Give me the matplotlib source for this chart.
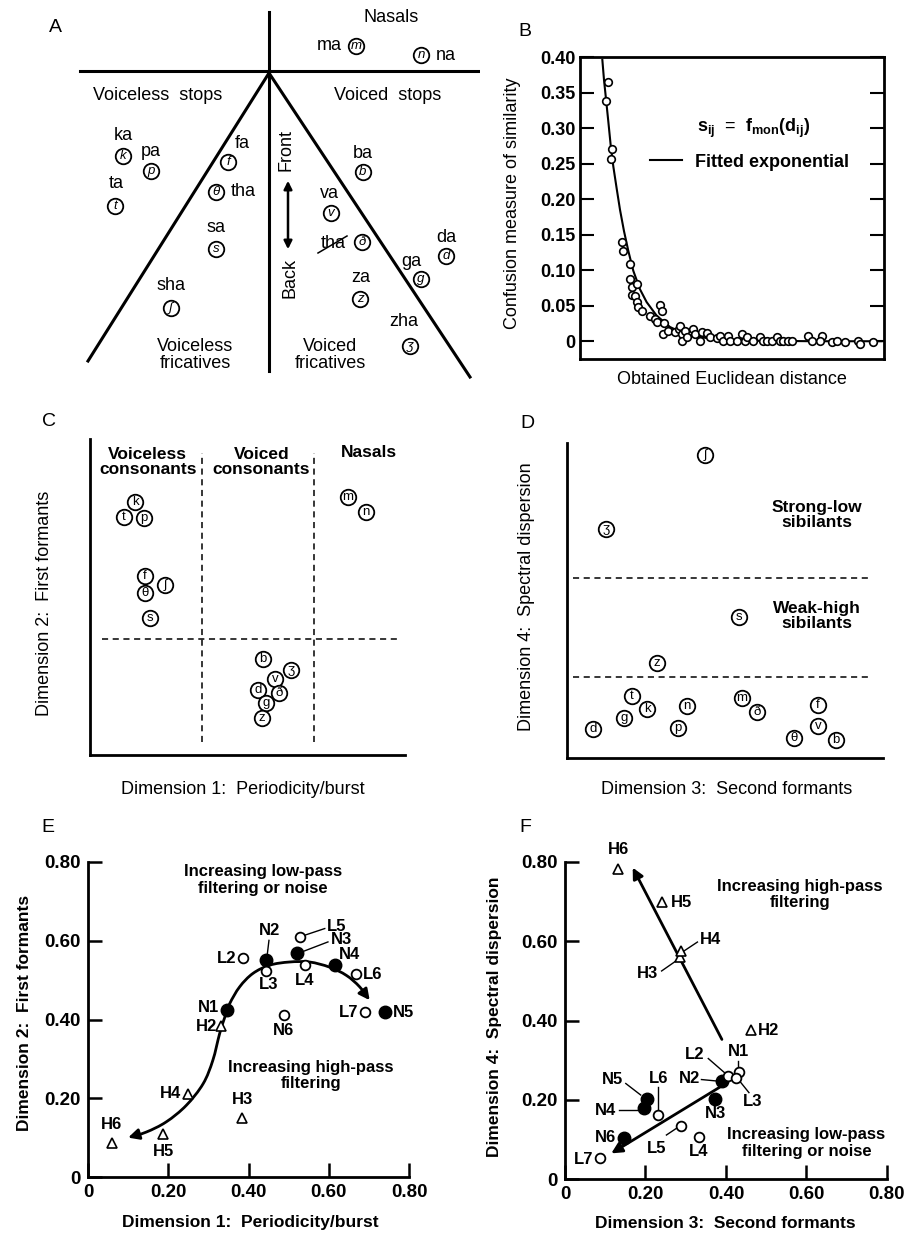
import numpy as np
import matplotlib
matplotlib.use("Agg")
import matplotlib.pyplot as plt
from matplotlib.path import Path
from matplotlib.patches import FancyArrowPatch

plt.rcParams['font.family'] = ['Liberation Sans', 'DejaVu Sans']
plt.rcParams['mathtext.fontset'] = 'custom'
plt.rcParams['mathtext.rm'] = 'Liberation Sans:bold'
plt.rcParams['mathtext.it'] = 'Liberation Sans:bold'
plt.rcParams['mathtext.default'] = 'rm'

W, H = 912, 1234

# ---------------- data ----------------
# A: feature diagram (pixel-like coordinates)
a_line_x = [[80, 480], [269, 269], [269, 88], [269, 470]]
a_line_y = [[71, 71], [12, 371], [73, 361], [73, 377]]
a_sym = ['k', 'p', 't', 'f', 'θ', 's', 'ʃ', 'm', 'n', 'b', 'v', 'ð', 'd', 'g', 'z', 'ʒ']
a_sym_x = [123, 151, 115, 228, 216, 216, 171, 356, 421, 363, 331, 362, 446, 421, 360, 410]
a_sym_y = [156, 171, 206, 162, 192, 249, 308, 46, 55, 172, 213, 242, 256, 279, 299, 346]
a_syl = ['ka', 'pa', 'ta', 'fa', 'tha', 'sa', 'sha', 'ma', 'na', 'ba', 'va', 'tha', 'da', 'ga', 'za', 'zha']
a_syl_x = [123, 151, 116, 242, 243, 216, 171, 329, 446, 363, 329, 333, 446, 411, 361, 404]
a_syl_y = [135, 151, 183, 143, 192, 227, 285, 46, 55, 153, 193, 244, 237, 261, 278, 322]
a_region = ['Nasals', 'Voiceless  stops', 'Voiced  stops', 'Voiceless\nfricatives', 'Voiced\nfricatives']
a_region_x = [391, 158, 388, 195, 330]
a_region_y = [17, 96, 96, 355, 355]

# B: confusion vs distance
b_x = [0.91, 0.855, 1.06, 1.02, 1.39, 1.40, 1.64, 1.64, 1.70, 1.89, 1.70, 1.82, 1.86, 1.92, 2.03,
       2.30, 2.47, 2.52, 2.63, 2.69, 2.77, 2.72, 2.91, 3.13, 3.26, 3.29, 3.34, 3.34, 3.45, 3.51,
       3.73, 3.78, 3.95, 4.00, 4.17, 4.28, 4.50, 4.61, 4.71, 4.88, 4.93, 5.15, 5.32, 5.43, 5.48,
       5.70, 5.92, 6.03, 6.14, 6.31, 6.47, 6.58, 6.69, 6.85, 6.96, 7.51, 7.62, 7.95, 7.89, 8.28,
       8.44, 8.72, 9.16, 9.21, 9.65]
b_y = [0.365, 0.338, 0.271, 0.256, 0.139, 0.127, 0.108, 0.088, 0.076, 0.080, 0.065, 0.064, 0.055,
       0.048, 0.043, 0.036, 0.031, 0.027, 0.051, 0.042, 0.025, 0.010, 0.014, 0.013, 0.017, 0.022,
       0.010, 0.001, 0.015, 0.006, 0.017, 0.010, 0.001, 0.013, 0.011, 0.006, 0.005, 0.008, 0.000,
       0.008, 0.001, 0.001, 0.010, 0.000, 0.006, 0.001, 0.006, 0.000, 0.001, 0.000, 0.006, 0.000,
       0.001, 0.000, 0.001, 0.007, 0.000, 0.007, 0.000, -0.001, 0.001, -0.001, 0.000, -0.004, -0.001]
b_fit_x = [0.735, 0.789, 0.855, 0.932, 1.009, 1.096, 1.206, 1.316, 1.447, 1.590, 1.754, 1.974,
           2.193, 2.522, 2.961, 3.509, 4.386, 5.482, 7.675, 9.923]
b_fit_y = [0.396, 0.368, 0.341, 0.309, 0.276, 0.246, 0.215, 0.185, 0.155, 0.127, 0.099, 0.073,
           0.055, 0.036, 0.020, 0.009, 0.003, 0.001, 0.0, 0.0]
b_yticks = [0, 0.05, 0.10, 0.15, 0.20, 0.25, 0.30, 0.35, 0.40]
b_yticklabels = ['0', '0.05', '0.10', '0.15', '0.20', '0.25', '0.30', '0.35', '0.40']

# C: dimension 1 vs dimension 2
c_sym = ['k', 't', 'p', 'm', 'n', 'f', 'ʃ', 'θ', 's', 'b', 'ʒ', 'v', 'd', 'ð', 'g', 'z']
c_x = [1.43, 1.08, 1.71, 8.19, 8.76, 1.75, 2.38, 1.75, 1.90, 5.49, 6.38, 5.87, 5.33, 6.00, 5.59, 5.46]
c_y = [8.01, 7.53, 7.50, 8.16, 7.69, 5.66, 5.38, 5.13, 4.34, 3.04, 2.69, 2.41, 2.06, 1.96, 1.65, 1.17]
c_groups = ['Voiceless\nconsonants', 'Voiced\nconsonants', 'Nasals']

# D: dimension 3 vs dimension 4
d_sym = ['ʃ', 'ʒ', 's', 'z', 't', 'k', 'g', 'd', 'n', 'p', 'm', 'ð', 'f', 'v', 'θ', 'b']
d_x = [4.37, 1.23, 5.44, 2.85, 2.06, 2.53, 1.80, 0.82, 3.80, 3.51, 5.54, 6.01, 7.94, 7.94, 7.18, 8.51]
d_y = [9.62, 7.27, 4.48, 3.02, 1.97, 1.56, 1.27, 0.92, 1.65, 0.95, 1.90, 1.46, 1.68, 1.02, 0.63, 0.57]
d_groups = ['Strong-low\nsibilants', 'Weak-high\nsibilants']

# E: filtering conditions, dims 1-2
e_n_lab = ['N1', 'N2', 'N3', 'N4', 'N5']
e_n_x = [0.347, 0.444, 0.521, 0.615, 0.741]
e_n_y = [0.423, 0.550, 0.569, 0.538, 0.418]
e_o_lab = ['L2', 'L3', 'L4', 'L5', 'L6', 'L7', 'N6']
e_o_x = [0.386, 0.444, 0.540, 0.529, 0.667, 0.691, 0.488]
e_o_y = [0.555, 0.523, 0.538, 0.610, 0.515, 0.419, 0.411]
e_h_lab = ['H2', 'H3', 'H4', 'H5', 'H6']
e_h_x = [0.332, 0.385, 0.249, 0.187, 0.061]
e_h_y = [0.383, 0.151, 0.212, 0.108, 0.087]
# trend arrow through the conditions
e_curve_x = [0.100, 0.145, 0.195, 0.245, 0.287, 0.311, 0.328, 0.341, 0.353, 0.378, 0.411, 0.453,
             0.502, 0.552, 0.602, 0.644, 0.677, 0.702]
e_curve_y = [0.100, 0.114, 0.140, 0.182, 0.237, 0.296, 0.364, 0.406, 0.440, 0.483, 0.517, 0.538,
             0.546, 0.546, 0.533, 0.512, 0.483, 0.449]

# F: filtering conditions, dims 3-4
f_n_lab = ['N2', 'N3', 'N4', 'N5', 'N6']
f_n_x = [0.391, 0.372, 0.197, 0.203, 0.147]
f_n_y = [0.247, 0.202, 0.178, 0.201, 0.104]
f_o_lab = ['N1', 'L2', 'L3', 'L4', 'L5', 'L6', 'L7']
f_o_x = [0.433, 0.406, 0.426, 0.332, 0.287, 0.232, 0.087]
f_o_y = [0.271, 0.260, 0.254, 0.107, 0.134, 0.161, 0.052]
f_h_lab = ['H2', 'H3', 'H4', 'H5', 'H6']
f_h_x = [0.462, 0.285, 0.287, 0.240, 0.132]
f_h_y = [0.377, 0.561, 0.576, 0.699, 0.783]

ticks_ef = [0, 0.2, 0.4, 0.6, 0.8]
ticklabels_ef = ['0', '0.20', '0.40', '0.60', '0.80']

# label placement: name -> (x, y, ha, leader line)
e_text = {
    'N1': (0.327, 0.430, 'right', None), 'N2': (0.453, 0.627, 'center', ((0.451, 0.601), (0.447, 0.567))),
    'N3': (0.606, 0.603, 'left', ((0.534, 0.572), (0.598, 0.597))), 'N4': (0.652, 0.565, 'center', None),
    'N5': (0.760, 0.417, 'left', None), 'N6': (0.488, 0.373, 'center', None),
    'L2': (0.371, 0.555, 'right', None), 'L3': (0.451, 0.489, 'center', None),
    'L4': (0.540, 0.500, 'center', None), 'L5': (0.596, 0.637, 'left', ((0.540, 0.614), (0.590, 0.631))),
    'L6': (0.685, 0.515, 'left', None), 'L7': (0.673, 0.419, 'right', None),
    'H2': (0.322, 0.381, 'right', None), 'H3': (0.384, 0.196, 'center', None),
    'H4': (0.233, 0.213, 'right', None), 'H5': (0.189, 0.066, 'center', None),
    'H6': (0.058, 0.134, 'center', None),
}
f_text = {
    'H6': (0.132, 0.831, 'center', None), 'H5': (0.262, 0.697, 'left', None),
    'H4': (0.335, 0.604, 'left', ((0.292, 0.573), (0.329, 0.598))),
    'H3': (0.232, 0.518, 'right', ((0.240, 0.525), (0.281, 0.554))),
    'H2': (0.480, 0.376, 'left', None),
    'N1': (0.430, 0.321, 'center', ((0.430, 0.298), (0.430, 0.280))),
    'L2': (0.347, 0.313, 'right', ((0.356, 0.304), (0.399, 0.266))),
    'N2': (0.335, 0.254, 'right', ((0.339, 0.251), (0.380, 0.247))),
    'L3': (0.443, 0.195, 'left', ((0.434, 0.247), (0.457, 0.218))),
    'N3': (0.375, 0.166, 'center', None),
    'N5': (0.145, 0.250, 'right', ((0.151, 0.241), (0.188, 0.212))),
    'N4': (0.127, 0.174, 'right', ((0.135, 0.174), (0.184, 0.174))),
    'L6': (0.232, 0.254, 'center', ((0.232, 0.233), (0.232, 0.172))),
    'N6': (0.127, 0.104, 'right', None),
    'L5': (0.228, 0.077, 'center', ((0.252, 0.111), (0.277, 0.128))),
    'L4': (0.333, 0.069, 'center', None), 'L7': (0.070, 0.050, 'right', None),
}


def box(l, t, r, b):
    return [l / W, 1 - b / H, (r - l) / W, (b - t) / H]


def ftext(x, y, s, **kw):
    fig.text(x / W, 1 - y / H, s, **kw)


def smooth_path(xs, ys):
    # Catmull-Rom -> cubic bezier, only to draw the guide arrow smoothly
    p = np.column_stack([xs, ys])
    verts = [p[0]]
    codes = [Path.MOVETO]
    n = len(p)
    for i in range(n - 1):
        p0 = p[max(i - 1, 0)]
        p3 = p[min(i + 2, n - 1)]
        c1 = p[i] + (p[i + 1] - p0) / 6
        c2 = p[i + 1] - (p3 - p[i]) / 6
        verts += [c1, c2, p[i + 1]]
        codes += [Path.CURVE4] * 3
    return Path(verts, codes)


fig = plt.figure(figsize=(W / 100, H / 100), dpi=100)

# ---------------- A ----------------
ax = fig.add_axes(box(0, 0, 480, 400))
ax.set_xlim(0, 480)
ax.set_ylim(400, 0)
ax.axis('off')
for lx, ly in zip(a_line_x, a_line_y):
    ax.plot(lx, ly, color='k', lw=2.2)
ax.scatter(a_sym_x, a_sym_y, s=125, facecolors='white', edgecolors='k', linewidths=1.3, zorder=3)
for s, x, y in zip(a_sym, a_sym_x, a_sym_y):
    ax.text(x, y, s, ha='center', va='center', fontsize=9.5, style='italic', zorder=4)
for s, x, y in zip(a_syl, a_syl_x, a_syl_y):
    ax.text(x, y, s, ha='center', va='center', fontsize=13)
for s, x, y in zip(a_region, a_region_x, a_region_y):
    ax.text(x, y, s, ha='center', va='center', fontsize=13, linespacing=1.05)
ax.plot([318, 347], [253, 236], color='k', lw=1.1)
ax.text(286, 150, 'Front', rotation=90, ha='center', va='center', fontsize=13)
ax.text(290, 278, 'Back', rotation=90, ha='center', va='center', fontsize=13)
ax.annotate('', xy=(288, 178), xytext=(288, 252),
            arrowprops=dict(arrowstyle='<|-|>', lw=1.8, color='k', mutation_scale=12))
ax.text(55, 28, 'A', ha='center', va='center', fontsize=14)

# ---------------- B ----------------
ax = fig.add_axes(box(580, 57, 884, 359))
ax.plot(b_fit_x, b_fit_y, color='k', lw=1.5, label='Fitted exponential')
ax.scatter(b_x, b_y, s=30, facecolors='white', edgecolors='k', linewidths=1.2, zorder=3)
ax.set_xlim(0, 10)
ax.set_ylim(-0.025, 0.40)
ax.set_xticks([])
ax.set_yticks(b_yticks)
ax.set_yticklabels(b_yticklabels, fontsize=13, fontweight='bold')
ax.tick_params(axis='y', direction='in', length=10, width=1.5, right=True, pad=3)
for sp in ax.spines.values():
    sp.set_linewidth(2)
ax.legend(loc='center left', bbox_to_anchor=(0.23, 0.652), frameon=False,
          handlelength=1.8, handletextpad=0.7, borderpad=0, borderaxespad=0,
          prop=dict(weight='bold', size=13))
ax.text(0.385, 0.765, r'$s_{ij}$  =  $f_{mon}(d_{ij})$', transform=ax.transAxes,
        ha='left', va='center', fontsize=13)
ftext(513, 203, 'Confusion measure of similarity', rotation=90, ha='center', va='center', fontsize=13)
ftext(732, 380, 'Obtained Euclidean distance', ha='center', va='center', fontsize=13)
ftext(525, 32, 'B', ha='center', va='center', fontsize=14)

# ---------------- C ----------------
ax = fig.add_axes(box(90, 439, 405, 755))
ax.set_xlim(0, 10)
ax.set_ylim(0, 10)
ax.set_xticks([])
ax.set_yticks([])
for k in ['top', 'right']:
    ax.spines[k].set_visible(False)
for k in ['left', 'bottom']:
    ax.spines[k].set_linewidth(2)
ax.plot([3.56, 3.56], [0.41, 9.56], 'k--', lw=1.1, dashes=(4, 3))
ax.plot([7.11, 7.11], [0.41, 9.56], 'k--', lw=1.1, dashes=(4, 3))
ax.plot([0.38, 9.75], [3.67, 3.67], 'k--', lw=1.1, dashes=(4, 3))
ax.scatter(c_x, c_y, s=125, facecolors='white', edgecolors='k', linewidths=1.3, zorder=3)
for s, x, y in zip(c_sym, c_x, c_y):
    ax.text(x, y, s, ha='center', va='center', fontsize=9.5, zorder=4)
for s, x, y in zip(c_groups, [1.83, 5.44, 8.86], [9.27, 9.27, 9.56]):
    ax.text(x, y, s, ha='center', va='center', fontsize=12.5, fontweight='bold', linespacing=1.05)
ftext(45, 603, 'Dimension 2:  First formants', rotation=90, ha='center', va='center', fontsize=13)
ftext(243, 790, 'Dimension 1:  Periodicity/burst', ha='center', va='center', fontsize=13)
ftext(49, 421, 'C', ha='center', va='center', fontsize=14)

# ---------------- D ----------------
ax = fig.add_axes(box(567, 443, 883, 758))
ax.set_xlim(0, 10)
ax.set_ylim(0, 10)
ax.set_xticks([])
ax.set_yticks([])
for k in ['top', 'right']:
    ax.spines[k].set_visible(False)
for k in ['left', 'bottom']:
    ax.spines[k].set_linewidth(2)
ax.plot([0.19, 9.56], [5.71, 5.71], 'k--', lw=1.1, dashes=(4, 3))
ax.plot([0.19, 9.56], [2.57, 2.57], 'k--', lw=1.1, dashes=(4, 3))
ax.scatter(d_x, d_y, s=125, facecolors='white', edgecolors='k', linewidths=1.3, zorder=3)
for s, x, y in zip(d_sym, d_x, d_y):
    ax.text(x, y, s, ha='center', va='center', fontsize=9.5, zorder=4)
for s, y in zip(d_groups, [7.71, 4.51]):
    ax.text(7.91, y, s, ha='center', va='center', fontsize=12.5, fontweight='bold', linespacing=1.05)
ftext(527, 597, 'Dimension 4:  Spectral dispersion', rotation=90, ha='center', va='center', fontsize=13)
ftext(727, 790, 'Dimension 3:  Second formants', ha='center', va='center', fontsize=13)
ftext(527, 423, 'D', ha='center', va='center', fontsize=14)


def style_ef(ax):
    ax.set_xlim(0, 0.8)
    ax.set_ylim(0, 0.8)
    ax.set_xticks(ticks_ef)
    ax.set_yticks(ticks_ef)
    ax.set_xticklabels(ticklabels_ef, fontsize=13.5, fontweight='bold')
    ax.set_yticklabels(ticklabels_ef, fontsize=13.5, fontweight='bold')
    ax.tick_params(direction='in', length=10, width=1.8, pad=5)
    for k in ['top', 'right']:
        ax.spines[k].set_visible(False)
    for k in ['left', 'bottom']:
        ax.spines[k].set_linewidth(2)


def point_labels(ax, table):
    for lab, (x, y, ha, lead) in table.items():
        ax.text(x, y, lab, ha=ha, va='center', fontsize=12, fontweight='bold')
        if lead is not None:
            ax.plot([lead[0][0], lead[1][0]], [lead[0][1], lead[1][1]], color='k', lw=1)


# ---------------- E ----------------
ax = fig.add_axes(box(88, 862, 409, 1177))
style_ef(ax)
ax.add_patch(FancyArrowPatch(path=smooth_path(e_curve_x, e_curve_y), arrowstyle='<|-|>',
                             mutation_scale=16, lw=2, color='k'))
ax.plot(e_n_x, e_n_y, 'o', ms=9, color='k', zorder=3)
ax.plot(e_o_x, e_o_y, 'o', ms=7, mfc='white', mec='k', mew=1.3, zorder=3)
ax.plot(e_h_x, e_h_y, '^', ms=6.5, mfc='white', mec='k', mew=1.2, zorder=3)
point_labels(ax, e_text)
ax.text(0.436, 0.754, 'Increasing low-pass\nfiltering or noise', ha='center', va='center',
        fontsize=12, fontweight='bold', linespacing=1.15)
ax.text(0.556, 0.258, 'Increasing high-pass\nfiltering', ha='center', va='center',
        fontsize=12, fontweight='bold', linespacing=1.15)
ftext(25, 1013, 'Dimension 2:  First formants', rotation=90, ha='center', va='center',
      fontsize=12.5, fontweight='bold')
ftext(250, 1223, 'Dimension 1:  Periodicity/burst', ha='center', va='center',
      fontsize=12.5, fontweight='bold')
ftext(48, 828, 'E', ha='center', va='center', fontsize=14)

# ---------------- F ----------------
ax = fig.add_axes(box(565, 862, 887, 1179))
style_ef(ax)
ax.annotate('', xy=(0.165, 0.792), xytext=(0.393, 0.346),
            arrowprops=dict(arrowstyle='-|>', lw=2, color='k', mutation_scale=16))
ax.annotate('', xy=(0.109, 0.061), xytext=(0.393, 0.237),
            arrowprops=dict(arrowstyle='-|>', lw=2, color='k', mutation_scale=16))
ax.plot(f_n_x, f_n_y, 'o', ms=9, color='k', zorder=3)
ax.plot(f_o_x, f_o_y, 'o', ms=7, mfc='white', mec='k', mew=1.3, zorder=3)
ax.plot(f_h_x, f_h_y, '^', ms=6.5, mfc='white', mec='k', mew=1.2, zorder=3)
point_labels(ax, f_text)
ax.text(0.583, 0.718, 'Increasing high-pass\nfiltering', ha='center', va='center',
        fontsize=12, fontweight='bold', linespacing=1.15)
ax.text(0.600, 0.090, 'Increasing low-pass\nfiltering or noise', ha='center', va='center',
        fontsize=12, fontweight='bold', linespacing=1.15)
ftext(495, 1017, 'Dimension 4:  Spectral dispersion', rotation=90, ha='center', va='center',
      fontsize=12.5, fontweight='bold')
ftext(725, 1223, 'Dimension 3:  Second formants', ha='center', va='center',
      fontsize=12.5, fontweight='bold')
ftext(525, 828, 'F', ha='center', va='center', fontsize=14)

fig.savefig('out.png', dpi=100, facecolor='white')
